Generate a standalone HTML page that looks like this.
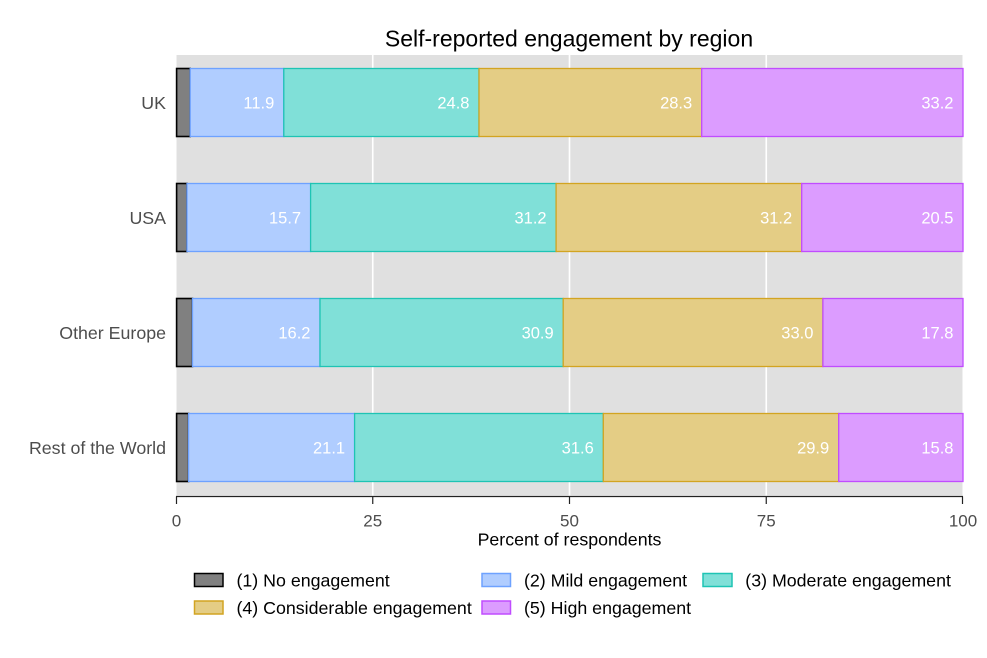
<!DOCTYPE html>
<html><head><meta charset="utf-8"><style>
html,body{margin:0;padding:0;background:#fff;}
svg{display:block;font-family:"Liberation Sans",Arial,sans-serif;}
</style></head><body>
<svg width="987" height="658" viewBox="0 0 987 658" xmlns="http://www.w3.org/2000/svg">
<rect x="0" y="0" width="987" height="658" fill="#fff"/>
<text x="569" y="46.5" font-size="23" text-anchor="middle" fill="#000">Self-reported engagement by region</text>
<!-- panel -->
<rect x="176.5" y="55" width="786" height="440.5" fill="#e0e0e0"/>
<g stroke="#fff" stroke-width="1.6">
<line x1="372.75" y1="55" x2="372.75" y2="495.5"/>
<line x1="569.5" y1="55" x2="569.5" y2="495.5"/>
<line x1="766.25" y1="55" x2="766.25" y2="495.5"/>
</g>
<!-- bars -->
<g stroke-width="1.3">
<!-- UK -->
<rect x="176.6" y="68.5" width="13.6" height="68" fill="#808080" stroke="#000" stroke-width="1.6"/>
<rect x="190.2" y="68.5" width="93.6" height="68" fill="#b0cdff" stroke="#6ea2ff"/>
<rect x="283.8" y="68.5" width="195.2" height="68" fill="#80e0d8" stroke="#1ec4b4"/>
<rect x="479.0" y="68.5" width="222.7" height="68" fill="#e4cd85" stroke="#d2a421"/>
<rect x="701.7" y="68.5" width="261.3" height="68" fill="#dc9cff" stroke="#c04cff"/>
<!-- USA -->
<rect x="176.6" y="183.5" width="10.4" height="68" fill="#808080" stroke="#000" stroke-width="1.6"/>
<rect x="187.0" y="183.5" width="123.6" height="68" fill="#b0cdff" stroke="#6ea2ff"/>
<rect x="310.6" y="183.5" width="245.5" height="68" fill="#80e0d8" stroke="#1ec4b4"/>
<rect x="556.1" y="183.5" width="245.6" height="68" fill="#e4cd85" stroke="#d2a421"/>
<rect x="801.7" y="183.5" width="161.3" height="68" fill="#dc9cff" stroke="#c04cff"/>
<!-- Other Europe -->
<rect x="176.6" y="298.5" width="15.9" height="68" fill="#808080" stroke="#000" stroke-width="1.6"/>
<rect x="192.5" y="298.5" width="127.5" height="68" fill="#b0cdff" stroke="#6ea2ff"/>
<rect x="320.0" y="298.5" width="243.2" height="68" fill="#80e0d8" stroke="#1ec4b4"/>
<rect x="563.2" y="298.5" width="259.7" height="68" fill="#e4cd85" stroke="#d2a421"/>
<rect x="822.9" y="298.5" width="140.1" height="68" fill="#dc9cff" stroke="#c04cff"/>
<!-- RoW -->
<rect x="176.6" y="413.5" width="12.0" height="68" fill="#808080" stroke="#000" stroke-width="1.6"/>
<rect x="188.6" y="413.5" width="166.0" height="68" fill="#b0cdff" stroke="#6ea2ff"/>
<rect x="354.6" y="413.5" width="248.7" height="68" fill="#80e0d8" stroke="#1ec4b4"/>
<rect x="603.3" y="413.5" width="235.4" height="68" fill="#e4cd85" stroke="#d2a421"/>
<rect x="838.7" y="413.5" width="124.3" height="68" fill="#dc9cff" stroke="#c04cff"/>
</g>
<!-- bar labels -->
<g font-size="16.5" fill="#fff" text-anchor="end">
<text x="274.3" y="108.5">11.9</text>
<text x="469.5" y="108.5">24.8</text>
<text x="692.2" y="108.5">28.3</text>
<text x="953.5" y="108.5">33.2</text>
<text x="301.1" y="223.5">15.7</text>
<text x="546.6" y="223.5">31.2</text>
<text x="792.2" y="223.5">31.2</text>
<text x="953.5" y="223.5">20.5</text>
<text x="310.5" y="338.5">16.2</text>
<text x="553.7" y="338.5">30.9</text>
<text x="813.4" y="338.5">33.0</text>
<text x="953.5" y="338.5">17.8</text>
<text x="345.1" y="453.5">21.1</text>
<text x="593.8" y="453.5">31.6</text>
<text x="829.2" y="453.5">29.9</text>
<text x="953.5" y="453.5">15.8</text>
</g>
<!-- y labels -->
<g font-size="17.8" fill="#4d4d4d" text-anchor="end">
<text x="166" y="109">UK</text>
<text x="166" y="224">USA</text>
<text x="166" y="339">Other Europe</text>
<text x="166" y="454">Rest of the World</text>
</g>
<!-- x axis -->
<g stroke="#222" stroke-width="1.2">
<line x1="176" y1="496.5" x2="963" y2="496.5"/>
<line x1="176.5" y1="496.5" x2="176.5" y2="504"/>
<line x1="372.75" y1="496.5" x2="372.75" y2="504"/>
<line x1="569.5" y1="496.5" x2="569.5" y2="504"/>
<line x1="766.25" y1="496.5" x2="766.25" y2="504"/>
<line x1="962.5" y1="496.5" x2="962.5" y2="504"/>
</g>
<g font-size="17" fill="#4d4d4d" text-anchor="middle">
<text x="176.5" y="526.5">0</text>
<text x="372.75" y="526.5">25</text>
<text x="569.5" y="526.5">50</text>
<text x="766.25" y="526.5">75</text>
<text x="963" y="526.5">100</text>
</g>
<text x="569.5" y="545.5" font-size="17.8" text-anchor="middle" fill="#000">Percent of respondents</text>
<!-- legend -->
<g stroke-width="1.5">
<rect x="194.5" y="573.5" width="28.5" height="13" fill="#808080" stroke="#000"/>
<rect x="482" y="573.5" width="28.5" height="13" fill="#b0cdff" stroke="#6ea2ff"/>
<rect x="703" y="573.5" width="29" height="13" fill="#80e0d8" stroke="#1ec4b4"/>
<rect x="194.5" y="601" width="28.5" height="13" fill="#e4cd85" stroke="#d2a421"/>
<rect x="482" y="601" width="28.5" height="13" fill="#dc9cff" stroke="#c04cff"/>
</g>
<g font-size="17.8" fill="#000">
<text x="236.5" y="586.5">(1) No engagement</text>
<text x="524" y="586.5">(2) Mild engagement</text>
<text x="745.3" y="586.5">(3) Moderate engagement</text>
<text x="236.5" y="614">(4) Considerable engagement</text>
<text x="524" y="614">(5) High engagement</text>
</g>
</svg>
</body></html>
